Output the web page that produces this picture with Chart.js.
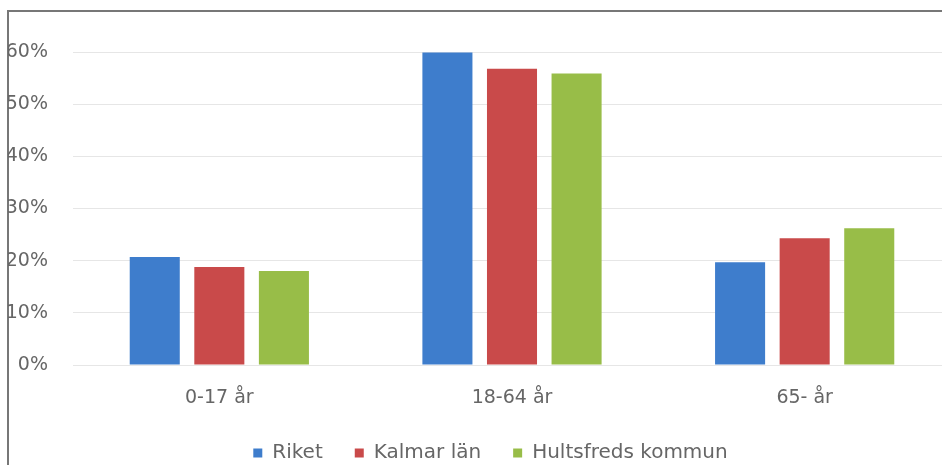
<!DOCTYPE html>
<html>
<head>
<meta charset="utf-8">
<script src="https://cdn.jsdelivr.net/npm/chart.js@4/dist/chart.umd.min.js"></script>
<style>
  html, body { margin: 0; padding: 0; width: 942px; height: 465px; overflow: hidden; background: #fff; }
  #frame { position: absolute; left: 7px; top: 10px; width: 2000px; height: 2000px; border: 2px solid #777; box-sizing: border-box; }
  #wrap { position: absolute; left: 8px; top: 12px; }
</style>
</head>
<body>
<div id="frame"></div>
<div id="wrap"><canvas id="ageChart" width="965" height="461"></canvas></div>
<script>
// age groups and share of population (%)
const categories = ["0-17 år", "18-64 år", "65- år"];
const seriesNames = ["Riket", "Kalmar län", "Hultsfreds kommun"];
const riket = [20.7, 59.9, 19.7];
const kalmarLan = [18.8, 56.8, 24.3];
const hultsfred = [18.0, 55.9, 26.2];
const yTicks = [0, 10, 20, 30, 40, 50, 60];

const colors = ["#3e7dcc", "#c94a4a", "#98bd48"];
const textColor = "#666";
const font = { family: "'DejaVu Sans', sans-serif", size: 19 };
const legendFont = { family: "'DejaVu Sans', sans-serif", size: 20 };

const ageChart = new Chart(document.getElementById("ageChart").getContext("2d"), {
  type: "bar",
  data: {
    labels: categories,
    datasets: [riket, kalmarLan, hultsfred].map((values, i) => ({
      label: seriesNames[i],
      data: values,
      backgroundColor: colors[i],
      borderWidth: 0,
      barPercentage: 0.775,
      categoryPercentage: 0.662,
    })),
  },
  options: {
    responsive: false,
    animation: false,
    devicePixelRatio: 1,
    layout: { padding: { top: 40, right: 0, left: 0, bottom: 0 } },
    scales: {
      x: {
        grid: { display: false },
        border: { display: false },
        ticks: { color: textColor, font: font, padding: 14, maxRotation: 0 },
        afterFit: (scale) => { scale.height = 46; },
      },
      y: {
        min: 0,
        max: 60,
        afterBuildTicks: (scale) => { scale.ticks = yTicks.map((v) => ({ value: v })); },
        grid: { color: "#e6e6e6", drawTicks: false },
        border: { display: false },
        ticks: { color: textColor, font: font, padding: 25, callback: (v) => v + "%" },
        afterFit: (scale) => { scale.width = 65; },
      },
      // empty spacer on the right, the plot runs past the cropped edge
      spacer: {
        position: "right",
        grid: { display: false },
        border: { display: false },
        ticks: { display: false },
        afterFit: (scale) => { scale.width = 22; },
      },
    },
    plugins: {
      legend: {
        position: "bottom",
        labels: { color: textColor, font: legendFont, boxWidth: 9, boxHeight: 9, padding: 32 },
      },
      tooltip: { enabled: false },
    },
  },
});
</script>
</body>
</html>
